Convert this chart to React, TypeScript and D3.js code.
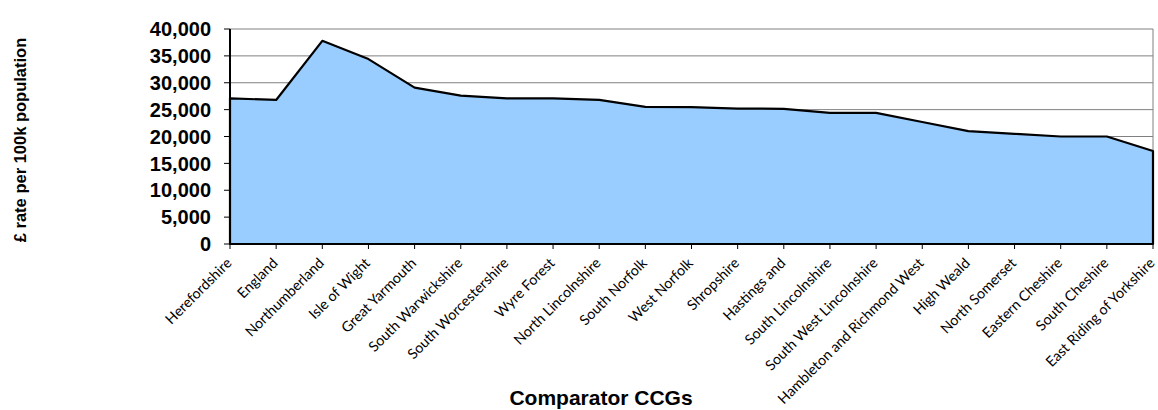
import React from "react";
import * as d3 from "d3";

const categories = [
  "Herefordshire",
  "England",
  "Northumberland",
  "Isle of Wight",
  "Great Yarmouth",
  "South Warwickshire",
  "South Worcestershire",
  "Wyre Forest",
  "North Lincolnshire",
  "South Norfolk",
  "West Norfolk",
  "Shropshire",
  "Hastings and",
  "South Lincolnshire",
  "South West Lincolnshire",
  "Hambleton and Richmond West",
  "High Weald",
  "North Somerset",
  "Eastern Cheshire",
  "South Cheshire",
  "East Riding of Yorkshire",
];

const values = [
  27100, 26800, 37800, 34400, 29100, 27600, 27100, 27100, 26800, 25500, 25450,
  25200, 25150, 24400, 24400, 22700, 21000, 20500, 20000, 20000, 17300,
];

const yTicks = [0, 5000, 10000, 15000, 20000, 25000, 30000, 35000, 40000];

const yTitle = "£ rate per 100k population";
const xTitle = "Comparator CCGs";

export default function App() {
  const W = 1158;
  const H = 410;
  const left = 230;
  const right = 1153;
  const top = 29;
  const bottom = 244;

  const x = d3.scalePoint<string>().domain(categories).range([left, right]);
  const y = d3.scaleLinear().domain([0, 40000]).range([bottom, top]);

  const data = categories.map((c, i) => ({ c, v: values[i] }));
  const area = d3
    .area<{ c: string; v: number }>()
    .x((d) => x(d.c) as number)
    .y0(y(0))
    .y1((d) => y(d.v));

  const fmt = d3.format(",");

  return (
    <svg
      width={W}
      height={H}
      style={{ position: "absolute", left: 0, top: 0, background: "#fff" }}
    >
      {/* gridlines */}
      {yTicks.map((t) => (
        <line
          key={"g" + t}
          x1={left}
          x2={right}
          y1={y(t)}
          y2={y(t)}
          stroke="#808080"
          strokeWidth={1}
        />
      ))}
      {/* plot border right */}
      <line x1={right} x2={right} y1={top} y2={bottom} stroke="#808080" strokeWidth={1} />

      {/* area */}
      <path
        d={area(data) as string}
        fill="#99CCFF"
        stroke="#000"
        strokeWidth={2.2}
        strokeLinejoin="round"
      />

      {/* y axis */}
      <line x1={left} x2={left} y1={top} y2={bottom} stroke="#000" strokeWidth={2} />
      {yTicks.map((t) => (
        <g key={"yt" + t}>
          <line x1={left - 6} x2={left} y1={y(t)} y2={y(t)} stroke="#000" strokeWidth={1} />
          <text
            x={211}
            y={y(t)}
            dy="0.36em"
            textAnchor="end"
            fontFamily="'Liberation Sans', Arial, sans-serif"
            fontWeight="bold"
            fontSize={20}
            fill="#000"
          >
            {fmt(t)}
          </text>
        </g>
      ))}

      {/* x axis */}
      <line x1={left} x2={right} y1={bottom} y2={bottom} stroke="#000" strokeWidth={2} />
      {categories.map((c) => {
        const px = x(c) as number;
        return (
          <g key={"xt" + c}>
            <line x1={px} x2={px} y1={bottom} y2={bottom + 5} stroke="#000" strokeWidth={1} />
            <text
              transform={`translate(${px + 2.5},${264}) rotate(-45)`}
              textAnchor="end"
              fontFamily="Lato, 'Open Sans', sans-serif"
              fontSize={14.3}
              fill="#000"
            >
              {c}
            </text>
          </g>
        );
      })}

      {/* axis titles */}
      <text
        x={601}
        y={405}
        textAnchor="middle"
        fontFamily="'Liberation Sans', Arial, sans-serif"
        fontWeight="bold"
        fontSize={21}
        fill="#000"
      >
        {xTitle}
      </text>
      <text
        transform={`translate(26,140) rotate(-90)`}
        textAnchor="middle"
        fontFamily="'Liberation Sans', Arial, sans-serif"
        fontWeight="bold"
        fontSize={16.5}
        fill="#000"
      >
        {yTitle}
      </text>
    </svg>
  );
}
